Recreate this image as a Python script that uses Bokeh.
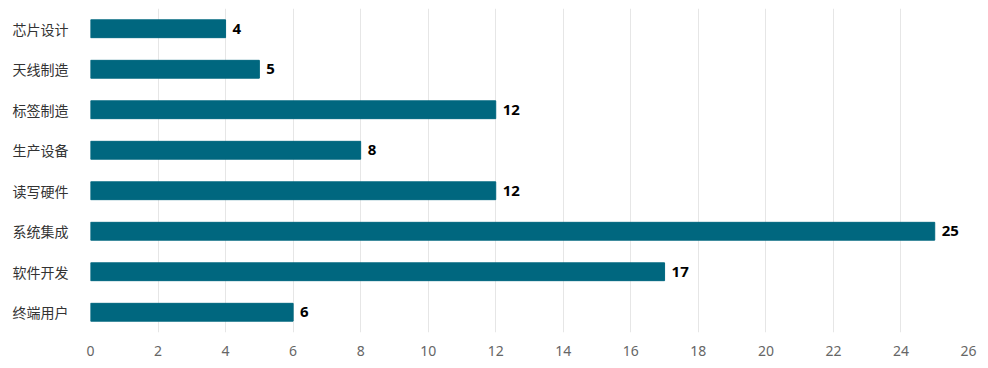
from bokeh.plotting import figure
from bokeh.models import ColumnDataSource, FixedTicker, FactorRange, Range1d
from bokeh.core.properties import value
from bokeh.embed import file_html
from bokeh.resources import INLINE

categories = ["芯片设计", "天线制造", "标签制造", "生产设备", "读写硬件", "系统集成", "软件开发", "终端用户"]
counts = [4, 5, 12, 8, 12, 25, 17, 6]
x_ticks = list(range(0, 27, 2))

src = ColumnDataSource(dict(cat=categories, val=counts, lab=[str(v) for v in counts]))

p = figure(y_range=FactorRange(factors=list(reversed(categories))),
           x_range=Range1d(0, 26),
           frame_width=878, frame_height=324,
           min_border_left=90, min_border_right=12, min_border_top=8, min_border_bottom=28,
           output_backend="svg", toolbar_location=None)

p.hbar(y="cat", right="val", left=0, height=0.44, source=src, color="#00677F")
p.text(x="val", y="cat", text="lab", source=src, x_offset=7,
       text_baseline="middle", text_align="left", text_font=value("Noto Sans"),
       text_font_style="bold", text_font_size="15px", text_color="#000000")

p.outline_line_color = None
p.background_fill_color = "white"
p.ygrid.grid_line_color = None
p.xgrid.grid_line_color = "#e6e6e6"
p.xgrid.grid_line_width = 1

xa = p.xaxis[0]
xa.ticker = FixedTicker(ticks=x_ticks)
xa.axis_line_color = None
xa.major_tick_line_color = None
xa.minor_tick_line_color = None
xa.major_tick_out = 0
xa.major_label_standoff = 13
xa.major_label_text_align = "left"
xa.major_label_text_font = "Noto Sans"
xa.major_label_text_font_size = "14px"
xa.major_label_text_color = "#666666"

ya = p.yaxis[0]
ya.axis_line_color = None
ya.major_tick_line_color = None
ya.major_tick_out = 0
ya.major_label_standoff = 22
ya.major_label_text_font = "Noto Sans CJK SC"
ya.major_label_text_font_size = "14px"
ya.major_label_text_color = "#333333"

open("out.html", "w").write(file_html(p, INLINE))
